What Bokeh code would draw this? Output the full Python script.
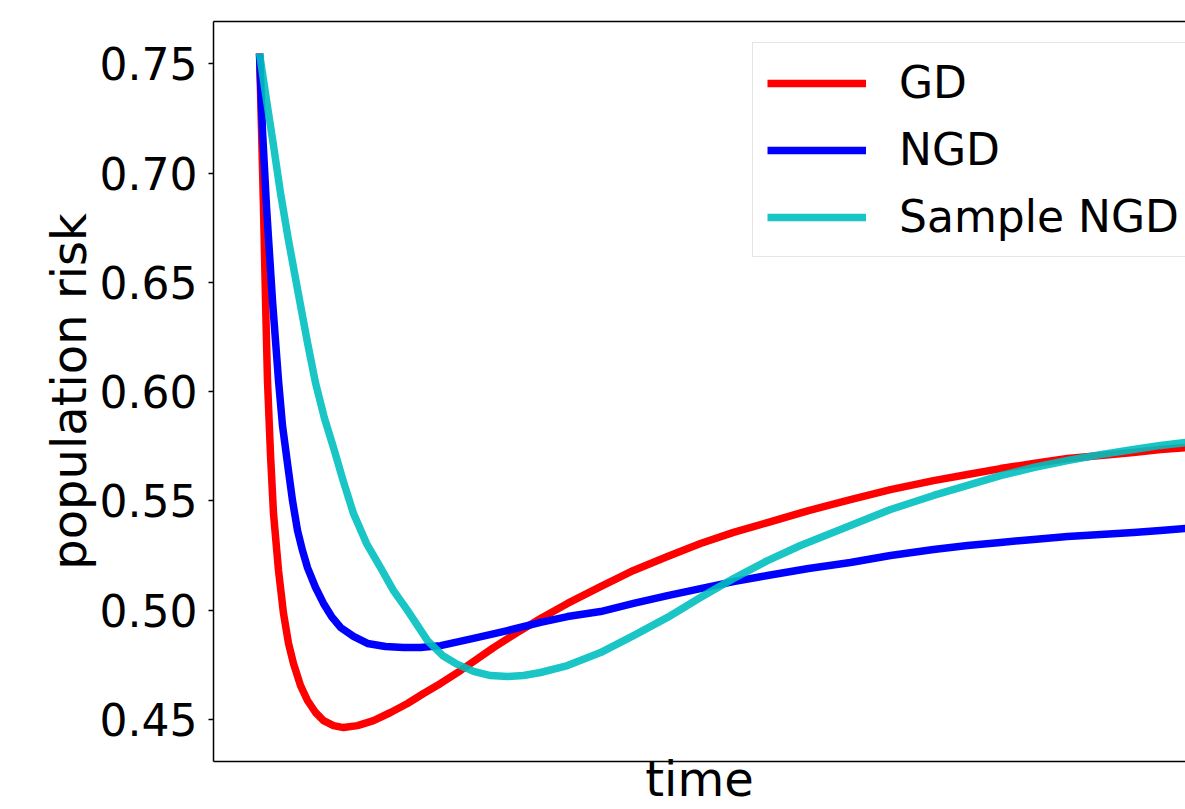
from bokeh.plotting import figure
from bokeh.models import (Range1d, FixedTicker, LinearAxis, Legend, LegendItem,
                          PrintfTickFormatter)
from bokeh.embed import file_html
from bokeh.resources import INLINE

# ---- data (time in arbitrary units) ----
gd_time = [0.0, 0.0022, 0.0043, 0.0065, 0.0086, 0.0119, 0.0151, 0.0205, 0.0259,
           0.0313, 0.0367, 0.0443, 0.0518, 0.0605, 0.0691, 0.0799, 0.0907, 0.1058,
           0.1231, 0.1415, 0.1598, 0.1771, 0.1955, 0.2171, 0.2527, 0.2765, 0.3035,
           0.3326, 0.3683, 0.4039, 0.4406, 0.4762, 0.5119, 0.5486, 0.5929, 0.6382,
           0.6814, 0.7279, 0.7646, 0.8002, 0.8359, 0.8726, 0.9082, 0.9438, 0.9730, 1.0]
gd_risk = [0.7547, 0.7195, 0.6843, 0.6417, 0.6051, 0.5708, 0.5442, 0.5182, 0.4985,
           0.4848, 0.4756, 0.4655, 0.4587, 0.4532, 0.4495, 0.4472, 0.4463, 0.4472,
           0.4495, 0.4532, 0.4573, 0.4619, 0.4665, 0.4724, 0.4829, 0.4893, 0.4962,
           0.5031, 0.5108, 0.5182, 0.5246, 0.5305, 0.5356, 0.5401, 0.5456, 0.5506,
           0.5552, 0.5593, 0.5621, 0.5648, 0.5671, 0.5694, 0.5708, 0.5722, 0.5735, 0.5744]

ngd_time = [0.0, 0.0032, 0.0076, 0.0140, 0.0205, 0.0248, 0.0302, 0.0356, 0.0410,
            0.0464, 0.0518, 0.0605, 0.0691, 0.0778, 0.0875, 0.1015, 0.1166, 0.1361,
            0.1555, 0.1739, 0.1955, 0.2311, 0.2678, 0.3035, 0.3326, 0.3683, 0.4039,
            0.4406, 0.4762, 0.5119, 0.5486, 0.5929, 0.6382, 0.6814, 0.7279, 0.7646,
            0.8002, 0.8359, 0.8726, 0.9082, 0.9438, 0.9730, 1.0]
ngd_risk = [0.7547, 0.7195, 0.6843, 0.6417, 0.6051, 0.5845, 0.5671, 0.5502, 0.5365,
            0.5273, 0.5195, 0.5104, 0.5031, 0.4971, 0.4921, 0.4880, 0.4848, 0.4834,
            0.4829, 0.4829, 0.4838, 0.4871, 0.4907, 0.4944, 0.4971, 0.4994, 0.5031,
            0.5067, 0.5099, 0.5131, 0.5159, 0.5191, 0.5218, 0.5250, 0.5278, 0.5296,
            0.5310, 0.5324, 0.5337, 0.5346, 0.5356, 0.5365, 0.5374]

sngd_time = [0.0, 0.0076, 0.0151, 0.0227, 0.0313, 0.0443, 0.0520, 0.0605, 0.0700,
             0.0799, 0.0905, 0.1015, 0.1156, 0.1307, 0.1447, 0.1598, 0.1814, 0.1976,
             0.2138, 0.2311, 0.2495, 0.2678, 0.2851, 0.3035, 0.3326, 0.3683, 0.4039,
             0.4406, 0.4762, 0.5119, 0.5486, 0.5842, 0.6382, 0.6814, 0.7279, 0.7646,
             0.8002, 0.8359, 0.8726, 0.9082, 0.9438, 0.9730, 1.0]
sngd_risk = [0.7547, 0.7332, 0.7126, 0.6907, 0.6692, 0.6394, 0.6220, 0.6040, 0.5880,
             0.5744, 0.5590, 0.5442, 0.5305, 0.5195, 0.5090, 0.4999, 0.4861, 0.4793,
             0.4752, 0.4720, 0.4701, 0.4697, 0.4701, 0.4715, 0.4747, 0.4806, 0.4884,
             0.4967, 0.5058, 0.5145, 0.5227, 0.5296, 0.5388, 0.5461, 0.5525, 0.5571,
             0.5616, 0.5653, 0.5685, 0.5712, 0.5735, 0.5754, 0.5767]

y_ticks = [0.45, 0.50, 0.55, 0.60, 0.65, 0.70, 0.75]
series_names = ["GD", "NGD", "Sample NGD"]
x_label = "time"
y_label = "population risk"

FONT = "DejaVu Sans"

p = figure(width=1185, height=809, output_backend="svg", toolbar_location=None,
           x_range=Range1d(-0.0497, 1.0), y_range=Range1d(0.43078, 0.76935),
           min_border_left=213, min_border_right=0, min_border_top=21,
           min_border_bottom=48, x_axis_type=None, y_axis_type=None)
p.outline_line_color = None
p.background_fill_color = "white"
p.border_fill_color = "white"

# left axis with ticks and label
yaxis = LinearAxis(ticker=FixedTicker(ticks=y_ticks),
                   formatter=PrintfTickFormatter(format="%.2f"))
yaxis.major_label_text_font = FONT
yaxis.major_label_text_font_size = "44px"
yaxis.major_label_text_color = "black"
yaxis.major_tick_out = 5
yaxis.major_tick_in = 0
yaxis.minor_tick_out = 0
yaxis.minor_tick_in = 0
yaxis.major_label_standoff = 11
yaxis.axis_line_color = "black"
yaxis.axis_line_width = 1.5
yaxis.major_tick_line_color = "black"
yaxis.major_tick_line_width = 1.5
yaxis.axis_label = y_label
yaxis.axis_label_text_font = FONT
yaxis.axis_label_text_font_size = "48px"
yaxis.axis_label_text_font_style = "normal"
yaxis.axis_label_text_color = "black"
yaxis.axis_label_standoff = 0
p.add_layout(yaxis, "left")

# bottom spine with label
xaxis = LinearAxis(ticker=FixedTicker(ticks=[]))
xaxis.major_tick_out = 0
xaxis.major_tick_in = 0
xaxis.minor_tick_out = 0
xaxis.minor_tick_in = 0
xaxis.major_label_standoff = 0
xaxis.axis_line_color = "black"
xaxis.axis_line_width = 1.5
xaxis.axis_label = x_label
xaxis.axis_label_text_font = FONT
xaxis.axis_label_text_font_size = "48px"
xaxis.axis_label_text_font_style = "normal"
xaxis.axis_label_text_color = "black"
xaxis.axis_label_standoff = -11
p.add_layout(xaxis, "below")

# top spine
taxis = LinearAxis(ticker=FixedTicker(ticks=[]))
taxis.major_tick_out = 0
taxis.major_tick_in = 0
taxis.minor_tick_out = 0
taxis.minor_tick_in = 0
taxis.major_label_standoff = 0
taxis.axis_line_color = "black"
taxis.axis_line_width = 1.5
p.add_layout(taxis, "above")

r1 = p.line(gd_time, gd_risk, line_color="red", line_width=7.5, line_join="round")
r2 = p.line(ngd_time, ngd_risk, line_color="blue", line_width=7.5, line_join="round")
r3 = p.line(sngd_time, sngd_risk, line_color="#00bfbf", line_alpha=0.9,
            line_width=7.5, line_join="round")

legend = Legend(items=[LegendItem(label=series_names[0], renderers=[r1]),
                       LegendItem(label=series_names[1], renderers=[r2]),
                       LegendItem(label=series_names[2], renderers=[r3])],
                location=(539, 504))
legend.label_text_font = FONT
legend.label_text_font_size = "44px"
legend.label_text_color = "black"
legend.glyph_width = 99
legend.glyph_height = 50
legend.label_height = 50
legend.spacing = 16
legend.padding = 14
legend.margin = 0
legend.label_standoff = 33
legend.border_line_color = "#cccccc"
legend.border_line_width = 1.5
legend.background_fill_color = "white"
legend.background_fill_alpha = 0.8
p.add_layout(legend)
p.grid.visible = False

open("out.html", "w").write(file_html(p, INLINE))
